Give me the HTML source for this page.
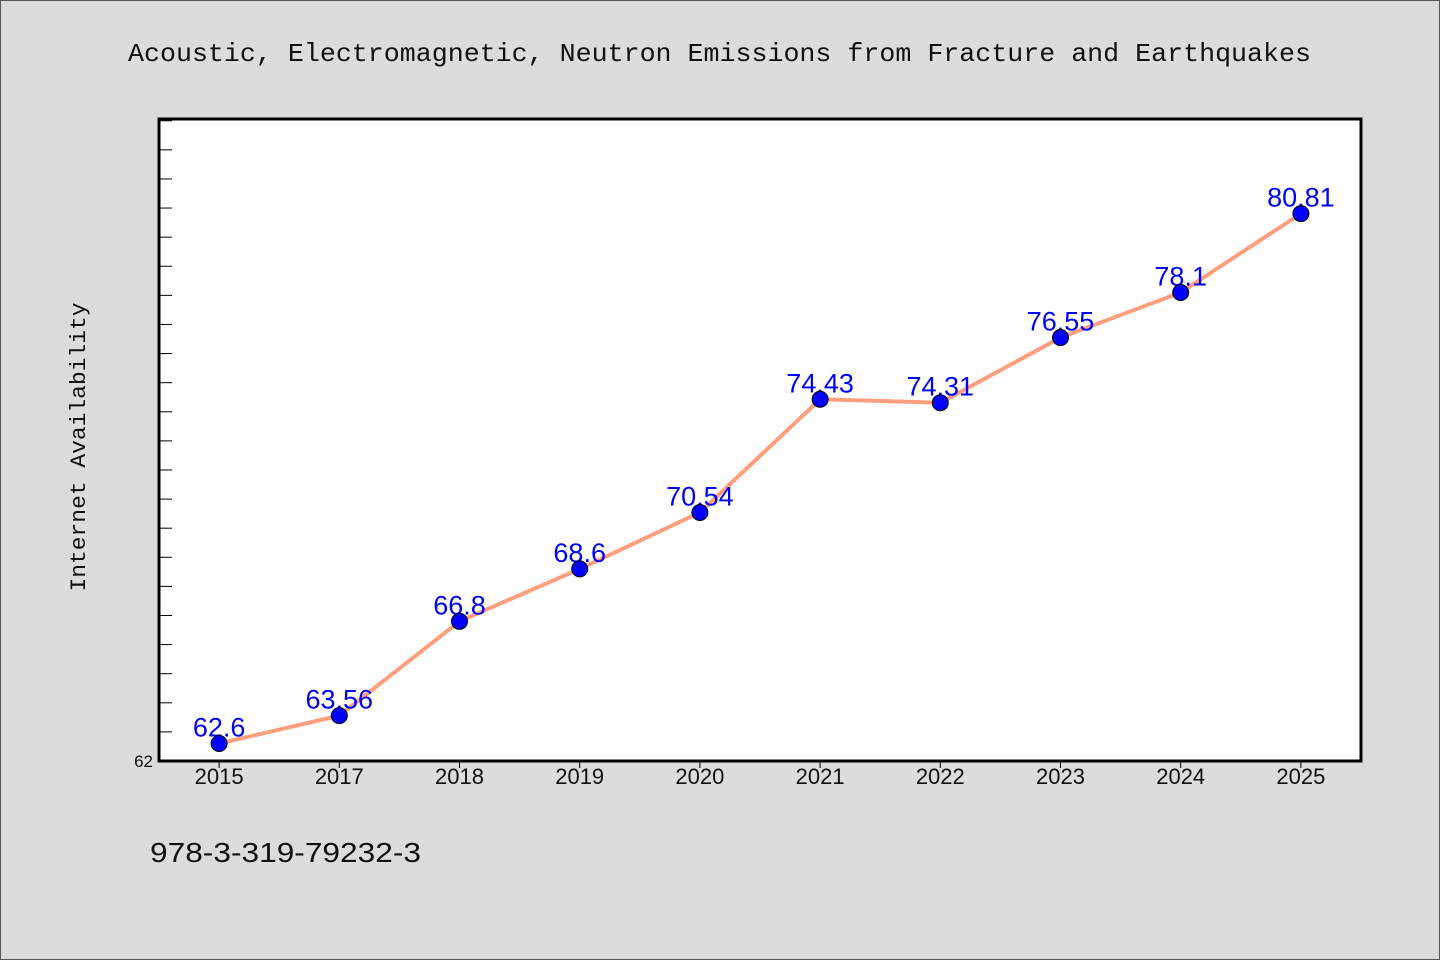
<!DOCTYPE html>
<html><head><meta charset="utf-8"><style>
body{margin:0;background:#dcdcdc;}
svg{display:block;font-family:"WenQuanYi Zen Hei","Liberation Sans",sans-serif;}
</style></head><body>
<svg id="chart" width="1440" height="960" xmlns="http://www.w3.org/2000/svg">
<rect x="0.5" y="0.5" width="1439" height="959" fill="#dcdcdc" stroke="#555"/>
<text x="128" y="61" font-size="26" textLength="1183" lengthAdjust="spacingAndGlyphs" fill="#111" font-family="Liberation Mono, monospace">Acoustic, Electromagnetic, Neutron Emissions from Fracture and Earthquakes</text>
<rect x="159" y="119" width="1202" height="642" fill="#fff" stroke="#000" stroke-width="3"/>
<g id="yticks"></g>
<g id="xticks"></g>
<text transform="translate(85,447) rotate(-90)" text-anchor="middle" font-size="22" textLength="289" lengthAdjust="spacingAndGlyphs" fill="#111" font-family="Liberation Mono, monospace">Internet Availability</text>
<g id="series"></g>
<text x="150" y="862" font-size="28" fill="#111" textLength="271" lengthAdjust="spacingAndGlyphs">978-3-319-79232-3</text>
</svg>
<script>
const categories=["2015","2017","2018","2019","2020","2021","2022","2023","2024","2025"];
const values=[62.6,63.56,66.8,68.6,70.54,74.43,74.31,76.55,78.1,80.81];
const valueLabels=["62.6","63.56","66.8","68.6","70.54","74.43","74.31","76.55","78.1","80.81"];
const yMin=62, yMax=84.06;
const L=159,R=1361,T=119,B=761;
const NS="http://www.w3.org/2000/svg";
function x(i){return L+(R-L)/categories.length*(i+0.5);}
function y(v){return B-(v-yMin)/(yMax-yMin)*(B-T);}
function mk(tag,attrs,parent,txt){const e=document.createElementNS(NS,tag);for(const k in attrs)e.setAttribute(k,attrs[k]);if(txt!=null)e.textContent=txt;parent.appendChild(e);return e;}
const yt=document.getElementById('yticks');
for(let v=yMin+1;v<yMax;v++){const t=mk('line',{x1:L,x2:L+13,y1:y(v),y2:y(v),stroke:'#000','stroke-width':1},yt);

}
const yl=mk('text',{x:153,y:B+6,'text-anchor':'end','font-size':17,fill:'#111'},yt,"62");


const xt=document.getElementById('xticks');
categories.forEach((c,i)=>{const t=mk('line',{x1:x(i),x2:x(i),y1:B,y2:B+7,stroke:'#000','stroke-width':1},xt);


const l=mk('text',{x:x(i),y:B+23,'text-anchor':'middle','font-size':22,fill:'#111'},xt,c);

});
const s=document.getElementById('series');
const line=mk('polyline',{points:values.map((v,i)=>x(i)+','+y(v)).join(' '),fill:'none',stroke:'#ff9f7f','stroke-width':4},s);


values.forEach((v,i)=>{
const l=mk('text',{x:x(i),y:y(v)-7,'text-anchor':'middle','font-size':27,fill:'#0000ff'},s,valueLabels[i]);


const c=mk('circle',{cx:x(i),cy:y(v),r:8,fill:'#0000ff',stroke:'#000','stroke-width':1},s);

});
</script>
</body></html>
